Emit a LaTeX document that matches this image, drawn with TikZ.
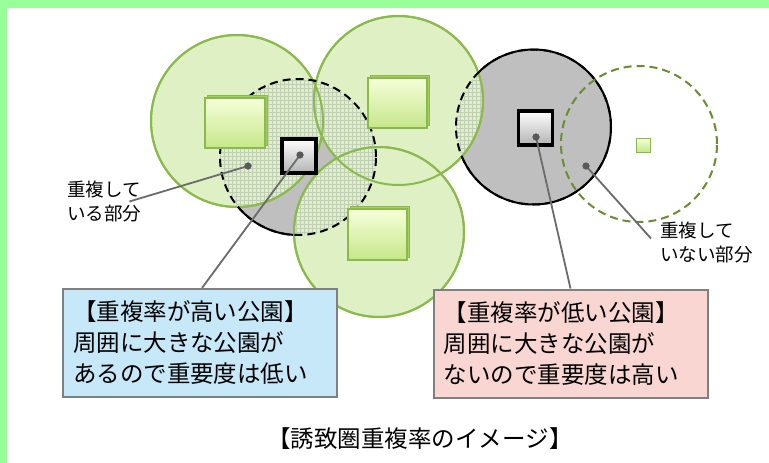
\documentclass[tikz,border=0pt]{standalone}
\usepackage{fontspec}
\setmainfont{Noto Sans CJK JP}
\usetikzlibrary{shadows}
\definecolor{bordo}{RGB}{153,255,153}
\definecolor{verdino}{RGB}{222,240,196}
\definecolor{verde}{RGB}{137,186,74}
\definecolor{oliva}{RGB}{104,142,52}
\definecolor{griglia}{RGB}{192,206,184}
\definecolor{celeste}{RGB}{198,232,248}
\definecolor{rosa}{RGB}{249,214,209}
\definecolor{chiaro}{RGB}{246,255,218}
\definecolor{scuro}{RGB}{198,230,138}
\definecolor{retro}{RGB}{168,206,98}
\tikzset{
  area/.style  = {draw=verde, line width=2pt, fill=verdino},
  zona/.style  = {draw=black, line width=2pt, fill=black!25},
  tratt/.style = {draw=black, line width=2pt, dash pattern=on 8pt off 5pt},
  park/.style  = {rectangle, draw=verde, line width=1.2pt, top color=chiaro, bottom color=scuro, inner sep=0,
                  general shadow={fill=retro, draw=verde, line width=1pt, shadow xshift=2.5pt, shadow yshift=2.5pt}},
  hub/.style   = {rectangle, draw=black, line width=3.5pt, top color=white, bottom color=black!30, minimum size=34pt, inner sep=0},
  pin/.style   = {circle, fill=black!65, minimum size=7pt, inner sep=0},
  link/.style  = {draw=black!58, line width=1.8pt},
  et/.style    = {font=\fontsize{18.5}{24}\selectfont, align=left, inner sep=0},
  nota/.style  = {rectangle, draw=black!50, line width=2pt, text width=254pt, minimum height=108pt, inner xsep=10pt,
                  align=left, font=\fontsize{23.5}{31}\selectfont}
}
\begin{document}
\begin{tikzpicture}[x=1pt,y=-1pt]
  \useasboundingbox (0,0) rectangle (769,463);
  \fill[bordo] (0,0) rectangle (769,7.5); \fill[bordo] (0,0) rectangle (7,463);
  \path[zona] (298,157) circle (78pt); \path[zona] (533.5,127) circle (77.5pt);
  \path[area] (237,121) circle (86pt); \path[area] (398.5,100.5) circle (84.5pt); \path[area] (379,232) circle (85pt);
  \begin{scope}
    \clip (237,121) circle (86pt) (398.5,100.5) circle (84.5pt) (379,232) circle (85pt);
    \clip (298,157) circle (78pt) (533.5,127) circle (77.5pt);
    \draw[griglia, line width=0.4pt, step=4pt] (200,40) grid (620,250);
  \end{scope}
  \draw[verde, line width=2pt] (237,121) circle (86pt) (398.5,100.5) circle (84.5pt) (379,232) circle (85pt);
  \draw[tratt] (298,157) circle (78pt); \draw[tratt] (533.5,127) circle (77.5pt);
  \node[park, minimum width=60pt, minimum height=50pt] (pa) at (235,123) {};
  \node[park, minimum width=59pt, minimum height=50pt] (pb) at (397.5,103) {};
  \node[park, minimum width=59pt, minimum height=51pt] (pc) at (377.5,234.5) {};
  \node[hub] (ha) at (299,156) {}; \node[hub] (hb) at (535.5,128) {};
  \draw[draw=oliva, line width=2pt, dash pattern=on 8pt off 5pt] (639,144) circle (78pt);
  \node[rectangle, draw=verde, line width=1pt, top color=chiaro, bottom color=scuro, minimum size=14pt, inner sep=0] (pd) at (643,145) {};
  \node[et, anchor=west] (lsi) at (67,201.5) {重複して\\いる部分};
  \node[et, anchor=west] (lno) at (660,242.5) {重複して\\いない部分};
  \node[nota, fill=celeste] (nalto) at (200,343) {【重複率が高い公園】\\周囲に大きな公園が\\あるので重要度は低い};
  \node[nota, fill=rosa] (nbasso) at (570.5,343.5) {【重複率が低い公園】\\周囲に大きな公園が\\ないので重要度は高い};
  \node[pin] (p1) at (248,166) {}; \node[pin] (p2) at (300,155) {};
  \node[pin] (p3) at (536,137) {}; \node[pin] (p4) at (586,166) {};
  \draw[link] (p1.center) -- ([xshift=-12pt]lsi.east); \draw[link] (p2.center) -- ([xshift=2pt]nalto.north);
  \draw[link] (p3.center) -- (nbasso.north); \draw[link] (p4.center) -- ([xshift=-9pt,yshift=4pt]lno.west);
  \node[pin] at (p1) {}; \node[pin] at (p2) {}; \node[pin] at (p3) {}; \node[pin] at (p4) {};
  \node[font=\fontsize{23.5}{28}\selectfont, inner sep=0] (cap) at (420,439) {【誘致圏重複率のイメージ】};
\end{tikzpicture}
\end{document}
